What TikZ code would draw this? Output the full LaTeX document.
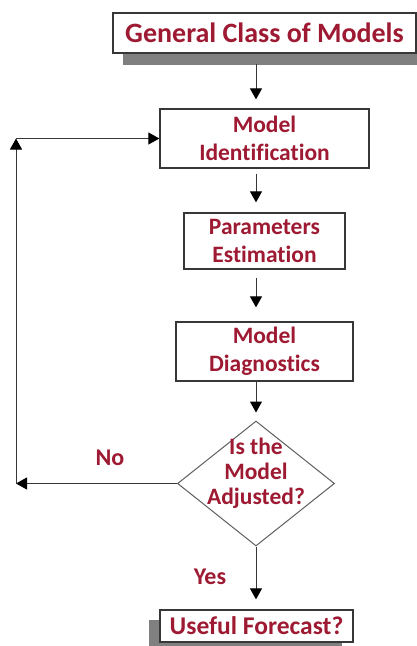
\documentclass[tikz,border=0pt]{standalone}
\usepackage{fontspec}
\setmainfont[Ligatures=NoCommon]{Carlito}
\usetikzlibrary{shapes.geometric,arrows.meta,shadows}

\definecolor{txtred}{RGB}{158,26,50}
\definecolor{lineg}{RGB}{55,55,55}

\begin{document}
\begin{tikzpicture}[x=1pt, y=-1pt,
    box/.style={draw=lineg, line width=1.3pt, fill=white, inner sep=0pt,
        align=center, text=txtred, font=\fontsize{23.5}{28}\selectfont\bfseries},
    dec/.style={diamond, draw=lineg!80, line width=1pt, inner sep=0pt,
        minimum width=157pt, minimum height=125pt},
    lbl/.style={text=txtred, align=center, inner sep=0pt,
        font=\fontsize{23.5}{25}\selectfont\bfseries},
    arr/.style={draw=lineg, line width=1pt, -{Triangle[length=11pt,width=12pt,black]}}]

    \fill[white] (0,0) rectangle (417,646);
    \useasboundingbox (0,0) rectangle (417,646);

    % Boxes of the loop
    \node[box, minimum width=303pt, minimum height=40pt,
        font=\fontsize{28}{30}\selectfont\bfseries,
        drop shadow={shadow xshift=10pt, shadow yshift=-12pt, fill=gray, opacity=1}]
        (general) at (264.5, 33) {General Class of Models};
    \node[box, minimum width=209pt, minimum height=59pt] (ident) at (264.5, 138.5) {Model\\Identification};
    \node[box, minimum width=161pt, minimum height=56pt] (param) at (264.5, 241) {Parameters\\Estimation};
    \node[box, minimum width=177pt, minimum height=59pt] (diag) at (264.5, 351.5) {Model\\Diagnostics};

    % The decision
    \node[dec] (adj) at (256, 483.5) {};
    \node[lbl] (adjtext) at (256, 473) {Is the\\Model\\Adjusted?};

    \node[box, minimum width=193pt, minimum height=32pt,
        font=\fontsize{25.5}{28}\selectfont\bfseries,
        drop shadow={shadow xshift=-11pt, shadow yshift=-10pt, fill=gray, opacity=1}]
        (forecast) at (256.5, 626) {Useful Forecast?};

    % Arrows down the middle
    \draw[arr, shorten <=10pt, shorten >=9pt] (general.south -| adj) -- (ident.north -| adj);
    \draw[arr, shorten <=5pt, shorten >=10pt] (ident.south -| adj) -- (param.north -| adj);
    \draw[arr, shorten <=8pt, shorten >=14pt] (param.south -| adj) -- (diag.north -| adj);
    \draw[arr, shorten >=8pt] (diag.south -| adj) -- (adj.north);
    \draw[arr, shorten >=10pt] (adj.south) -- (forecast.north -| adj);

    % Loop back on No
    \coordinate (loopbot) at (16, 483.5);
    \coordinate (looptop) at (16, 138.5);
    \draw[arr] (adj.west) -- (loopbot);
    \draw[arr] (loopbot) -- (looptop);
    \draw[arr] (looptop) -- (ident.west);

    \node[lbl, font=\fontsize{24}{26}\selectfont\bfseries] (no) at (110, 458) {No};
    \node[lbl, font=\fontsize{24}{26}\selectfont\bfseries] (yes) at (210, 577) {Yes};
\end{tikzpicture}
\end{document}
